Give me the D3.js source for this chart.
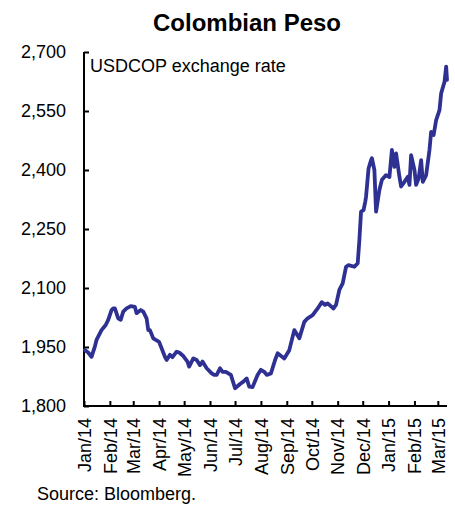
<!DOCTYPE html>
<html>
<head>
<meta charset="utf-8">
<script src="https://cdn.jsdelivr.net/npm/d3@7"></script>
<style>
  html, body { margin: 0; padding: 0; background: #fff; }
  svg { display: block; font-family: "Liberation Sans", Arial, sans-serif; }
</style>
</head>
<body>
<svg id="chart" width="455" height="505"></svg>
<script>
// USD/COP exchange rate, Jan 2014 – Mar 2015
const dates = [
  "2014-01-02","2014-01-06","2014-01-10","2014-01-14","2014-01-16","2014-01-22","2014-01-27","2014-01-30",
  "2014-02-03","2014-02-05","2014-02-07","2014-02-11","2014-02-14","2014-02-17","2014-02-21","2014-02-26",
  "2014-03-03","2014-03-05","2014-03-10","2014-03-13","2014-03-17","2014-03-19","2014-03-21","2014-03-25",
  "2014-03-28","2014-04-01","2014-04-04","2014-04-08","2014-04-10","2014-04-14","2014-04-17","2014-04-22",
  "2014-04-25","2014-04-30","2014-05-05","2014-05-07","2014-05-12","2014-05-16","2014-05-20","2014-05-23",
  "2014-05-28","2014-06-03","2014-06-06","2014-06-09","2014-06-13","2014-06-16","2014-06-20","2014-06-26",
  "2014-07-01","2014-07-07","2014-07-11","2014-07-15","2014-07-18","2014-07-22","2014-07-28","2014-08-01",
  "2014-08-05","2014-08-08","2014-08-13","2014-08-18","2014-08-21","2014-08-29","2014-09-04","2014-09-10",
  "2014-09-16","2014-09-22","2014-09-26","2014-10-02","2014-10-08","2014-10-13","2014-10-17","2014-10-20",
  "2014-10-27","2014-10-30","2014-11-03","2014-11-07","2014-11-11","2014-11-14","2014-11-21","2014-11-25",
  "2014-11-27","2014-11-29","2014-12-02","2014-12-04","2014-12-05","2014-12-08","2014-12-11","2014-12-12",
  "2014-12-15","2014-12-17","2014-12-21","2014-12-24","2014-12-29","2015-01-02","2015-01-05","2015-01-08",
  "2015-01-10","2015-01-14","2015-01-16","2015-01-20","2015-01-24","2015-01-26","2015-01-28","2015-02-01",
  "2015-02-03","2015-02-06","2015-02-09","2015-02-11","2015-02-15","2015-02-19","2015-02-21","2015-02-24",
  "2015-02-27","2015-03-03","2015-03-05","2015-03-09","2015-03-11","2015-03-12"
];
const rates = [
  1942,1936,1925,1951,1968,1993,2006,2019,
  2044,2048,2048,2023,2019,2040,2048,2054,
  2052,2036,2044,2040,2023,1993,1993,1972,
  1968,1963,1947,1925,1917,1930,1924,1938,
  1936,1927,1913,1900,1921,1917,1904,1913,
  1896,1883,1879,1879,1896,1887,1887,1879,
  1845,1856,1862,1870,1849,1848,1879,1892,
  1887,1879,1883,1917,1934,1921,1942,1993,
  1972,2014,2023,2031,2048,2064,2057,2061,
  2048,2057,2095,2112,2154,2158,2154,2163,
  2222,2294,2298,2319,2332,2404,2425,2430,
  2400,2294,2349,2375,2387,2382,2451,2408,
  2442,2383,2358,2370,2383,2362,2438,2400,
  2362,2379,2425,2370,2387,2451,2497,2489,
  2527,2552,2595,2624,2663,2629
];
const yTicks = [1800, 1950, 2100, 2250, 2400, 2550, 2700];
const monthTicks = [
  "2014-01-01","2014-02-01","2014-03-01","2014-04-01","2014-05-01","2014-06-01","2014-07-01",
  "2014-08-01","2014-09-01","2014-10-01","2014-11-01","2014-12-01","2015-01-01","2015-02-01","2015-03-01"
];
const title = "Colombian Peso";
const seriesLabel = "USDCOP exchange rate";
const source = "Source: Bloomberg.";

const parse = d3.utcParse("%Y-%m-%d");
const series = dates.map((d, i) => ({ date: parse(d), value: rates[i] }));

const svg = d3.select("#chart");
const plot = { left: 84, right: 447, top: 52, bottom: 406 };

const x = d3.scaleUtc()
  .domain([parse("2014-01-01"), parse("2015-03-12")])
  .range([plot.left, plot.right]);
const y = d3.scaleLinear()
  .domain([1800, 2700])
  .range([plot.bottom, plot.top]);

// Title
svg.append("text")
  .attr("x", 247).attr("y", 31)
  .attr("text-anchor", "middle")
  .style("font-size", "24px").style("font-weight", "bold")
  .text(title);

// Y axis: ticks point into the plot
const yAxis = d3.axisLeft(y)
  .tickValues(yTicks)
  .tickSize(-5)
  .tickPadding(18)
  .tickFormat(d3.format(","));
const gy = svg.append("g")
  .attr("transform", `translate(${plot.left},0)`)
  .call(yAxis);
gy.select(".domain").attr("stroke", "#000").attr("stroke-width", 2)
  .attr("d", `M0,${plot.bottom + 1}V${plot.top}`);
gy.selectAll(".tick line").attr("stroke", "#000").attr("stroke-width", 2);
gy.selectAll(".tick text")
  .attr("fill", "#000")
  .style("font-size", "18px")
  .style("font-family", "'Liberation Sans', Arial, sans-serif");

// X axis: monthly ticks, labels rotated
const xAxis = d3.axisBottom(x)
  .tickValues(monthTicks.map(parse))
  .tickSize(-5)
  .tickPadding(0)
  .tickFormat(d3.utcFormat("%b/%y"));
const gx = svg.append("g")
  .attr("transform", `translate(0,${plot.bottom})`)
  .call(xAxis);
gx.select(".domain").attr("stroke", "#000").attr("stroke-width", 2)
  .attr("d", `M${plot.left - 1},0H${plot.right}`);
gx.selectAll(".tick line").attr("stroke", "#000").attr("stroke-width", 2);
gx.selectAll(".tick text")
  .attr("fill", "#000")
  .attr("transform", "rotate(-90)")
  .attr("x", -12)
  .attr("y", 0)
  .attr("dy", "0.35em")
  .attr("text-anchor", "end")
  .style("font-size", "18px")
  .style("font-family", "'Liberation Sans', Arial, sans-serif");

// Series label
svg.append("text")
  .attr("x", 90).attr("y", 72)
  .style("font-size", "18px")
  .text(seriesLabel);

// Rate line
const line = d3.line()
  .x(d => x(d.date))
  .y(d => y(d.value));
svg.append("path")
  .datum(series)
  .attr("fill", "none")
  .attr("stroke", "#2E3192")
  .attr("stroke-width", 3.8)
  .attr("stroke-linejoin", "round")
  .attr("stroke-linecap", "round")
  .attr("d", line);

// Source note
svg.append("text")
  .attr("x", 37).attr("y", 500)
  .style("font-size", "18px")
  .text(source);
</script>
</body>
</html>
